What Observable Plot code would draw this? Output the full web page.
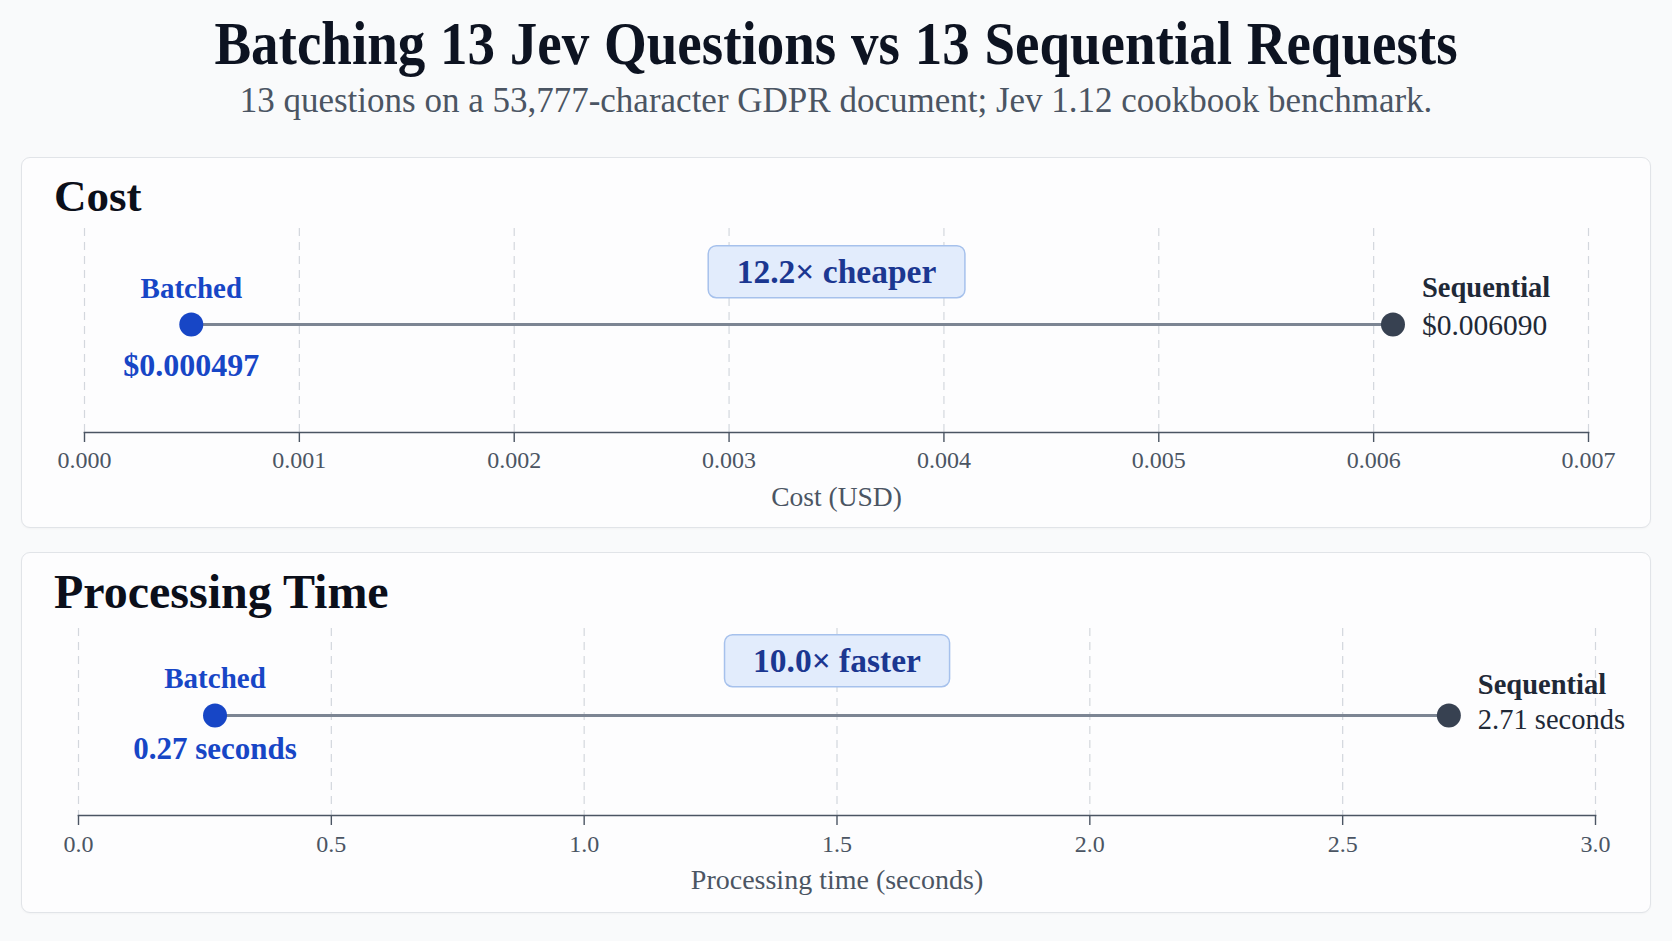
<!DOCTYPE html>
<html>
<head>
<meta charset="utf-8">
<script src="https://cdn.jsdelivr.net/npm/d3@7"></script>
<script src="https://cdn.jsdelivr.net/npm/@observablehq/plot@0.6"></script>
<style>
  html, body { margin: 0; padding: 0; }
  body {
    width: 1672px; height: 941px; position: relative; overflow: hidden;
    background: #f9fafb;
    font-family: "Liberation Serif", "Times New Roman", Times, serif;
  }
  .hd { position: absolute; left: 0; width: 1672px; margin: 0; text-align: center; white-space: nowrap; }
  #title {
    top: 18px; font-size: 55px; line-height: 55px; font-weight: 700; color: #0d1321;
    word-spacing: 1px; transform: scaleY(1.12); transform-origin: 50% 46px;
  }
  #subtitle {
    top: 82.5px; font-size: 35px; line-height: 35px; font-weight: 400; color: #4b5563;
    transform: scaleY(1.05); transform-origin: 50% 29.3px;
  }
  .card {
    position: absolute; left: 21px; width: 1630px; box-sizing: border-box;
    background: #fdfdfe; border: 1.5px solid #e1e4e8; border-radius: 9px;
    box-shadow: 0 1px 2px rgba(0,0,0,0.03);
  }
  .ctitle { position: absolute; left: 54px; margin: 0; font-weight: 700; color: #0b0f1a; white-space: nowrap; }
  .plotbox { position: absolute; left: 0; }
</style>
</head>
<body>
<div id="title" class="hd"></div>
<div id="subtitle" class="hd"></div>
<div class="card" style="top:157px;height:371px"></div>
<div class="card" style="top:552px;height:361px"></div>
<div id="t1" class="ctitle" style="top:174px;font-size:45px;line-height:45px"></div>
<div id="t2" class="ctitle" style="top:568px;font-size:48px;line-height:48px"></div>
<div id="p1" class="plotbox" style="top:218px"></div>
<div id="p2" class="plotbox" style="top:618px"></div>
<script>
// ---- data ----
const chartTitle = "Batching 13 Jev Questions vs 13 Sequential Requests";
const chartSubtitle = "13 questions on a 53,777-character GDPR document; Jev 1.12 cookbook benchmark.";
const panelTitles = ["Cost", "Processing Time"];
const methods = ["Batched", "Sequential"];
const costValues = [0.000497, 0.006090];
const costLabels = ["$0.000497", "$0.006090"];
const costTicks = [0, 0.001, 0.002, 0.003, 0.004, 0.005, 0.006, 0.007];
const timeValues = [0.27, 2.71];
const timeLabels = ["0.27 seconds", "2.71 seconds"];
const timeTicks = [0, 0.5, 1.0, 1.5, 2.0, 2.5, 3.0];
const badgeTexts = ["12.2× cheaper", "10.0× faster"];
const axisLabels = ["Cost (USD)", "Processing time (seconds)"];

// ---- styling ----
const FONT = '"Liberation Serif", "Times New Roman", Times, serif';
const BLUE = "#1746c6";
const DARK = "#1f2937";
const DOT_DARK = "#374151";
const MUTED = "#4b5563";

document.getElementById("title").textContent = chartTitle;
document.getElementById("subtitle").textContent = chartSubtitle;
document.getElementById("t1").textContent = panelTitles[0];
document.getElementById("t2").textContent = panelTitles[1];

function rowsOf(values, labels) {
  return methods.map((m, i) => ({method: m, value: values[i], label: labels[i], row: "row"}));
}

function makePlot(rows, ticks, fmt, badge, axisLabel, o) {
  const dom = [ticks[0], ticks[ticks.length - 1]];
  const b = rows[0], s = rows[1];
  return Plot.plot({
    width: 1672,
    height: o.height,
    marginLeft: o.ml, marginRight: o.mr, marginTop: 10, marginBottom: o.mb,
    style: {background: "transparent", overflow: "visible", fontFamily: FONT},
    x: {domain: dom},
    y: {type: "point", domain: ["row"], align: o.align, axis: null},
    marks: [
      Plot.gridX(ticks, {stroke: "#d3d7dd", strokeOpacity: 1, strokeWidth: 1.2, strokeDasharray: "8,6"}),
      Plot.frame({anchor: "bottom", stroke: MUTED, strokeWidth: 1.6}),
      Plot.axisX(ticks, {tickFormat: fmt, tickSize: 10, tickPadding: o.tp, fontSize: 24,
                         stroke: MUTED, color: MUTED, strokeWidth: 1.4, label: null}),
      Plot.line(rows, {x: "value", y: "row", stroke: "#7c8593", strokeWidth: 3}),
      Plot.dot([b], {x: "value", y: "row", r: 12, fill: BLUE, stroke: "none"}),
      Plot.dot([s], {x: "value", y: "row", r: 12, fill: DOT_DARK, stroke: "none"}),
      Plot.text([b], {x: "value", y: "row", text: "method", dy: o.bm, fontSize: 29, fontWeight: 700, fill: BLUE}),
      Plot.text([b], {x: "value", y: "row", text: "label", dy: o.bl, fontSize: o.blf, fontWeight: 700, fill: BLUE}),
      Plot.text([s], {x: "value", y: "row", text: "method", textAnchor: "start", dx: 29, dy: o.sm,
                      fontSize: 28.5, fontWeight: 700, fill: DARK}),
      Plot.text([s], {x: "value", y: "row", text: "label", textAnchor: "start", dx: 29, dy: o.sl,
                      fontSize: o.slf, fill: DARK}),
      Plot.text([badge], {x: () => (dom[0] + dom[1]) / 2, y: () => "row", text: d => d, dy: o.bd,
                          fontSize: 33.5, fontWeight: 700, fill: "#1b3791", ariaDescription: "badge"}),
      Plot.text([axisLabel], {frameAnchor: "bottom", text: d => d, dy: o.al, fontSize: o.alf, fill: MUTED})
    ]
  });
}

const p1 = makePlot(rowsOf(costValues, costLabels), costTicks, d3.format(".3f"), badgeTexts[0], axisLabels[0],
  {height: 300, ml: 84, mr: 84, mb: 86, align: 0.473, tp: 8.7,
   bm: -36, bl: 41.3, blf: 32, sm: -37, sl: 1, slf: 29.5, bd: -52, al: 73.7, alf: 27.5});
const p2 = makePlot(rowsOf(timeValues, timeLabels), timeTicks, d3.format(".1f"), badgeTexts[1], axisLabels[1],
  {height: 290, ml: 78, mr: 77, mb: 93, align: 0.4626, tp: 9.7,
   bm: -37, bl: 34, blf: 31, sm: -31, sl: 4.7, slf: 28.5, bd: -54, al: 73.6, alf: 28});

document.getElementById("p1").appendChild(p1);
document.getElementById("p2").appendChild(p2);

// rounded badge boxes behind the badge text, sized from the rendered text
for (const svg of [p1, p2]) {
  svg.querySelectorAll('[aria-description="badge"] text').forEach(t => {
    const bb = t.getBBox();
    const padX = 28.5, padY = 7.5;
    const rect = document.createElementNS("http://www.w3.org/2000/svg", "rect");
    rect.setAttribute("x", bb.x - padX);
    rect.setAttribute("y", bb.y - padY);
    rect.setAttribute("width", bb.width + 2 * padX);
    rect.setAttribute("height", bb.height + 2 * padY);
    rect.setAttribute("rx", 8);
    rect.setAttribute("fill", "#e2ecfc");
    rect.setAttribute("stroke", "#a6c1ec");
    rect.setAttribute("stroke-width", 1.5);
    const tr = t.getAttribute("transform");
    if (tr) rect.setAttribute("transform", tr);
    t.parentNode.insertBefore(rect, t);
  });
}
</script>
</body>
</html>
